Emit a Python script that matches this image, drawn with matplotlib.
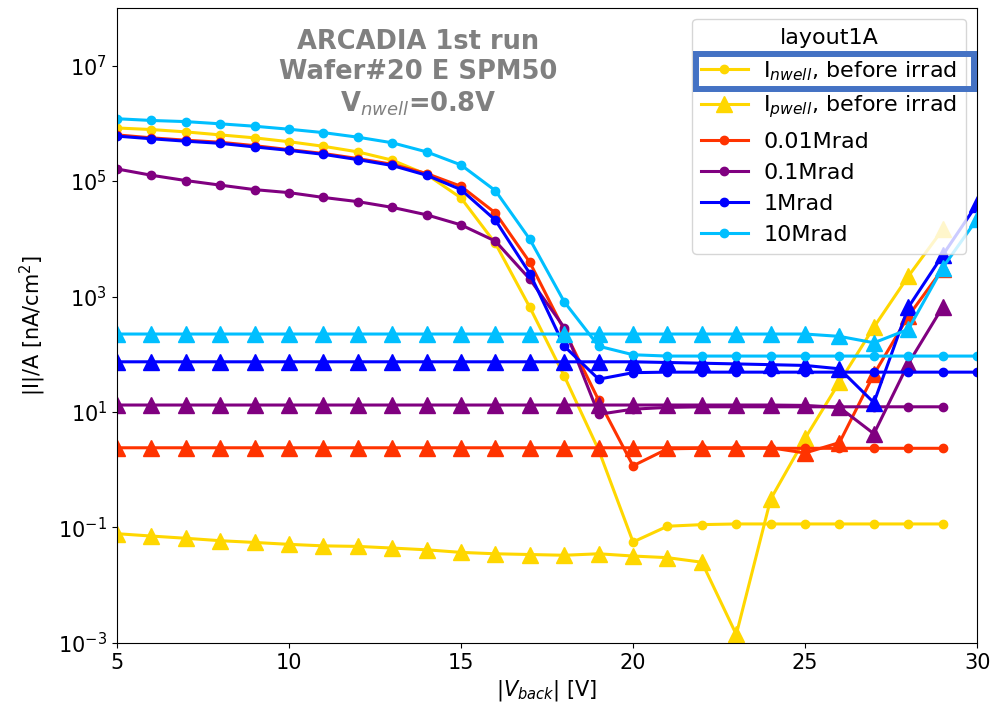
import numpy as np
import matplotlib
matplotlib.use("Agg")
import matplotlib.pyplot as plt
from matplotlib.patches import Rectangle
from matplotlib.ticker import NullLocator

# back voltage [V]
v_25 = np.arange(5, 30)      # 5..29
v_26 = np.arange(5, 31)      # 5..30

# before irradiation
nwell_0 = [8.3e5, 7.8e5, 7.1e5, 6.3e5, 5.6e5, 4.8e5, 4.0e5, 3.2e5, 2.3e5, 1.3e5,
           5.1e4, 8.3e3, 650, 42, 2.2, 0.056, 0.105, 0.112, 0.115, 0.115,
           0.115, 0.115, 0.115, 0.115, 0.115]
pwell_0 = [0.078, 0.071, 0.065, 0.059, 0.055, 0.051, 0.048, 0.047, 0.044, 0.041,
           0.037, 0.035, 0.034, 0.033, 0.035, 0.032, 0.030, 0.025, 0.0014, 0.31,
           3.5, 33, 295, 2240, 14500]

# 0.01 Mrad
nwell_001 = [6.3e5, 5.6e5, 5.1e5, 4.7e5, 4.1e5, 3.5e5, 3.0e5, 2.45e5, 1.95e5, 1.35e5,
             8.1e4, 2.8e4, 3.9e3, 260, 16, 1.17, 2.3, 2.35, 2.35, 2.35,
             2.35, 2.35, 2.35, 2.35, 2.35]
pwell_001 = [2.4, 2.4, 2.4, 2.4, 2.4, 2.4, 2.4, 2.4, 2.4, 2.4,
             2.4, 2.4, 2.4, 2.4, 2.4, 2.4, 2.4, 2.4, 2.4, 2.4,
             1.95, 2.95, 45, 457, 3000]

# 0.1 Mrad
nwell_01 = [1.62e5, 1.26e5, 1.02e5, 8.5e4, 7.1e4, 6.3e4, 5.2e4, 4.4e4, 3.5e4, 2.6e4,
            1.74e4, 9.1e3, 2.0e3, 290, 9.1, 11.2, 12.0, 12.3, 12.3, 12.3,
            12.3, 12.3, 12.3, 12.3, 12.3]
pwell_01 = [13.2, 13.2, 13.2, 13.2, 13.2, 13.2, 13.2, 13.2, 13.2, 13.2,
            13.2, 13.2, 13.2, 13.2, 13.2, 13.2, 13.2, 13.2, 13.2, 13.2,
            13.0, 12.0, 4.2, 69, 660]

# 1 Mrad
nwell_1 = [6.0e5, 5.4e5, 4.9e5, 4.5e5, 3.9e5, 3.4e5, 2.9e5, 2.35e5, 1.86e5, 1.26e5,
           7.1e4, 2.1e4, 2.5e3, 138, 37, 48, 49, 49, 49, 49,
           49, 49, 49, 49, 49, 49]
pwell_1 = [74, 74, 74, 74, 74, 74, 74, 74, 74, 74,
           74, 74, 74, 74, 74, 74, 72, 70, 68, 66,
           64, 56, 14.5, 650, 5200, 4.0e4]

# 10 Mrad
nwell_10 = [1.2e6, 1.12e6, 1.07e6, 9.8e5, 8.9e5, 7.9e5, 6.9e5, 5.75e5, 4.6e5, 3.2e5,
            1.9e5, 6.8e4, 9.8e3, 810, 138, 98, 93, 93, 93, 93,
            93, 93, 93, 93, 93, 93]
pwell_10 = [224, 224, 224, 224, 224, 224, 224, 224, 224, 224,
            224, 224, 224, 224, 224, 224, 224, 224, 224, 224,
            224, 204, 158, 270, 3160, 2.2e4]

c_gold = '#FFD700'
c_red = '#FF3300'
c_purple = '#800080'
c_blue = '#0000FF'
c_sky = '#00BFFF'

fig = plt.figure(figsize=(9.91, 7.12), dpi=100)
ax = fig.add_axes([0.118, 0.097, 0.868, 0.892])

lw = 2.2
ms_c = 6
ms_t = 11

ax.plot(v_25, nwell_0, color=c_gold, marker='o', lw=lw, ms=ms_c, label='I$_{nwell}$, before irrad')
ax.plot(v_25, pwell_0, color=c_gold, marker='^', lw=lw, ms=ms_t, label='I$_{pwell}$, before irrad')
ax.plot(v_25, nwell_001, color=c_red, marker='o', lw=lw, ms=ms_c, label='0.01Mrad')
ax.plot(v_25, pwell_001, color=c_red, marker='^', lw=lw, ms=ms_t)
ax.plot(v_25, nwell_01, color=c_purple, marker='o', lw=lw, ms=ms_c, label='0.1Mrad')
ax.plot(v_25, pwell_01, color=c_purple, marker='^', lw=lw, ms=ms_t)
ax.plot(v_26, nwell_1, color=c_blue, marker='o', lw=lw, ms=ms_c, label='1Mrad')
ax.plot(v_26, pwell_1, color=c_blue, marker='^', lw=lw, ms=ms_t)
ax.plot(v_26, nwell_10, color=c_sky, marker='o', lw=lw, ms=ms_c, label='10Mrad')
ax.plot(v_26, pwell_10, color=c_sky, marker='^', lw=lw, ms=ms_t)

ax.set_yscale('log')
ax.set_xlim(5, 30)
ax.set_ylim(1e-3, 1e8)
ax.set_yticks([1e-3, 1e-1, 1e1, 1e3, 1e5, 1e7])
ax.yaxis.set_minor_locator(NullLocator())
ax.tick_params(labelsize=15)

ax.set_xlabel('$|V_{back}|$ [V]', fontsize=15)
ax.set_ylabel('|I|/A [nA/cm$^2$]', fontsize=15, labelpad=7)

ax.text(0.35, 0.967, 'ARCADIA 1st run\nWafer#20 E SPM50\nV$_{nwell}$=0.8V',
        transform=ax.transAxes, ha='center', va='top', fontsize=18.5,
        fontweight='bold', color='gray', linespacing=1.2)

ax.legend(title='layout1A', loc='upper right', fontsize=16, title_fontsize=16,
          handlelength=2.1, handletextpad=0.7)

# highlight box around the first legend entry
fig.add_artist(Rectangle((0.7023, 0.875), 0.2806, 0.0492, transform=fig.transFigure,
                         fill=False, edgecolor='#4472C4', lw=4.3, zorder=10))

fig.savefig('out.png', dpi=100)
